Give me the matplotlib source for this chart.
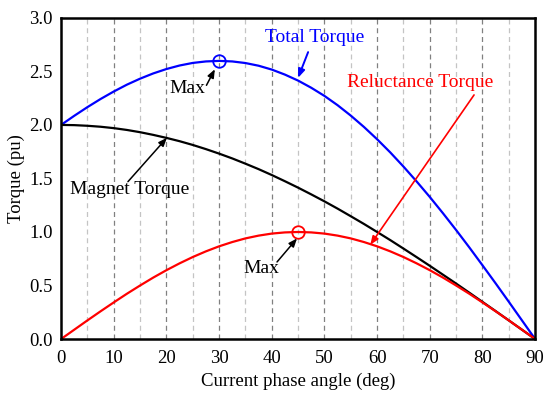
import matplotlib
matplotlib.use('Agg')
from matplotlib import pyplot as plt

# current phase angle (deg)
angles = [0, 2.5, 5, 7.5, 10, 12.5, 15, 17.5, 20, 22.5, 25, 27.5, 30, 32.5, 35, 37.5,
          40, 42.5, 45, 47.5, 50, 52.5, 55, 57.5, 60, 62.5, 65, 67.5, 70, 72.5, 75,
          77.5, 80, 82.5, 85, 87.5, 90]

magnetTorque = [2.000, 1.998, 1.992, 1.983, 1.970, 1.953, 1.932, 1.907, 1.879, 1.848,
                1.813, 1.774, 1.732, 1.687, 1.638, 1.587, 1.532, 1.474, 1.414, 1.351,
                1.286, 1.218, 1.147, 1.075, 1.000, 0.924, 0.845, 0.765, 0.684, 0.601,
                0.518, 0.433, 0.347, 0.261, 0.174, 0.087, 0.000]

reluctanceTorque = [0.000, 0.087, 0.174, 0.259, 0.342, 0.423, 0.500, 0.574, 0.643, 0.707,
                    0.766, 0.819, 0.866, 0.906, 0.940, 0.966, 0.985, 0.996, 1.000, 0.996,
                    0.985, 0.966, 0.940, 0.906, 0.866, 0.819, 0.766, 0.707, 0.643, 0.574,
                    0.500, 0.423, 0.342, 0.259, 0.174, 0.087, 0.000]

totalTorque = [2.000, 2.085, 2.166, 2.242, 2.312, 2.376, 2.432, 2.481, 2.522, 2.555,
               2.579, 2.593, 2.598, 2.593, 2.578, 2.553, 2.517, 2.470, 2.414, 2.347,
               2.271, 2.184, 2.087, 1.981, 1.866, 1.743, 1.611, 1.472, 1.327, 1.175,
               1.018, 0.856, 0.689, 0.520, 0.348, 0.174, 0.000]

xTicks = [0, 10, 20, 30, 40, 50, 60, 70, 80, 90]
xMinorGrid = [5, 15, 25, 35, 45, 55, 65, 75, 85]
yTicks = [0.0, 0.5, 1.0, 1.5, 2.0, 2.5, 3.0]

totalMax = (30, 2.6)
reluctanceMax = (45, 1.0)

plt.rcParams['font.family'] = ['Liberation Serif', 'DejaVu Serif']
plt.rcParams['font.size'] = 13.5

figure = plt.figure(figsize=(5.5, 3.97), dpi=100)
axis = figure.add_axes([0.111, 0.146, 0.862, 0.809])

# vertical dashed grid
for x in xTicks[1:-1]:
    axis.axvline(x, color='#808080', linestyle=(0, (4, 3)), linewidth=0.9, zorder=0)
for x in xMinorGrid:
    axis.axvline(x, color='#c4c4c4', linestyle=(0, (4, 3)), linewidth=0.9, zorder=0)

axis.plot(angles, totalTorque, color='#0000ff', linewidth=1.6)
axis.plot(angles, magnetTorque, color='black', linewidth=1.6)
axis.plot(angles, reluctanceTorque, color='#ff0000', linewidth=1.6)

# max markers
axis.plot(*totalMax, marker='o', markersize=9, markerfacecolor='none',
          markeredgecolor='#0000ff', markeredgewidth=1.3)
axis.plot(*reluctanceMax, marker='o', markersize=9, markerfacecolor='none',
          markeredgecolor='#ff0000', markeredgewidth=1.3)

arrowBlack = dict(arrowstyle='-|>,head_length=0.5,head_width=0.2', color='black',
                  linewidth=1.1, mutation_scale=10, shrinkA=0, shrinkB=0)
arrowBlue = dict(arrowstyle='-|>,head_length=0.5,head_width=0.2', color='#0000ff',
                 linewidth=1.4, mutation_scale=10, shrinkA=0, shrinkB=0)
arrowRed = dict(arrowstyle='-|>,head_length=0.5,head_width=0.2', color='#ff0000',
                linewidth=1.2, mutation_scale=10, shrinkA=0, shrinkB=0)

axis.annotate('', xy=(29.2, 2.52), xytext=(27.6, 2.37), arrowprops=arrowBlack)
axis.text(24.0, 2.34, 'Max', ha='center', va='center', fontsize=14)

axis.annotate('', xy=(45.0, 2.44), xytext=(46.9, 2.68), arrowprops=arrowBlue)
axis.text(48.2, 2.82, 'Total Torque', ha='center', va='center', color='#0000ff',
          fontsize=14)

axis.annotate('', xy=(20.1, 1.88), xytext=(12.7, 1.47), arrowprops=arrowBlack)
axis.text(13.1, 1.40, 'Magnet Torque', ha='center', va='center', fontsize=14)

axis.annotate('', xy=(58.7, 0.88), xytext=(78.4, 2.28), arrowprops=arrowRed)
axis.text(68.2, 2.40, 'Reluctance Torque', ha='center', va='center', color='#ff0000',
          fontsize=14)

axis.annotate('', xy=(44.8, 0.94), xytext=(41.0, 0.72), arrowprops=arrowBlack)
axis.text(38.0, 0.66, 'Max', ha='center', va='center', fontsize=14)

axis.set_xlim(0, 90)
axis.set_ylim(0, 3.0)
axis.set_xticks(xTicks)
axis.set_yticks(yTicks)
axis.set_yticklabels(['{:.1f}'.format(y) for y in yTicks])
axis.tick_params(axis='x', length=0, pad=8)
axis.tick_params(axis='y', length=0, pad=6)
for spine in axis.spines.values():
    spine.set_linewidth(1.8)

axis.set_xlabel('Current phase angle (deg)', labelpad=4)
axis.set_ylabel('Torque (pu)', labelpad=3)

plt.savefig('out.png', dpi=100)
